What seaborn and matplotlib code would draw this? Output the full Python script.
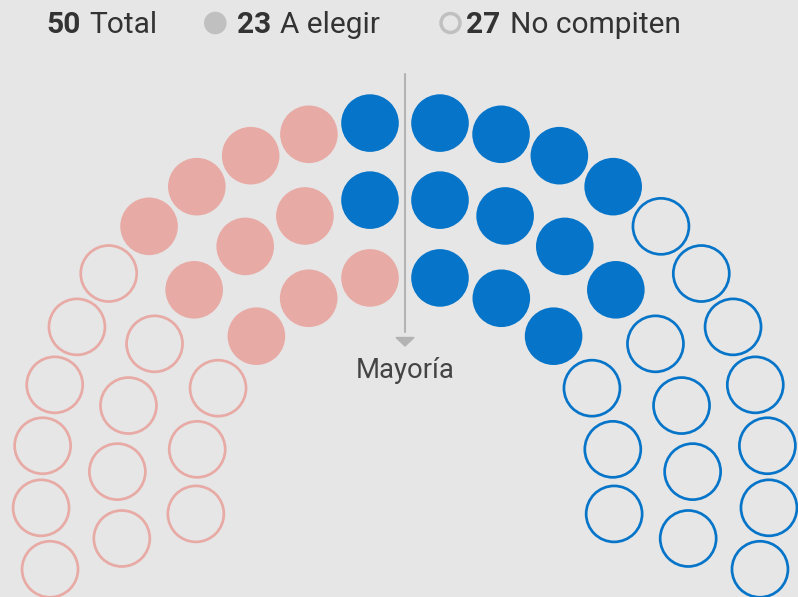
import numpy as np
import pandas as pd
import matplotlib
matplotlib.use("Agg")
import matplotlib.pyplot as plt
from matplotlib.patches import Polygon, Circle
import seaborn as sns

# ---- data -------------------------------------------------------------
bloque = ["rojo", "rojo", "azul", "azul"]
estado = ["No compiten", "A elegir", "A elegir", "No compiten"]
escanos = [13, 10, 13, 14]

colores = {"rojo": "#E8AAA5", "azul": "#0675C9"}
BG = "#E6E6E6"
TXT = "#333333"
GRIS = "#C0C0C0"

# ---- hemicycle layout (pixel space) -----------------------------------
CX, CY = 405, 486
filas_n = [12, 16, 22]
filas_r = [211, 288, 364.6]
filas_caida = [7.6, 10.5, 13.2]
filas_desfase = [4, 4, 0]
HUECO = 35

rows = []
for n, r, a, d in zip(filas_n, filas_r, filas_caida, filas_desfase):
    top = np.degrees(np.arccos(HUECO / r))
    right = np.linspace(-a, top, n // 2)
    angs = np.concatenate([right, 180 - right])
    for ang in angs:
        t = np.radians(ang)
        rows.append((CX + r * np.cos(t), CY - r * np.sin(t), ang + d))
seats = pd.DataFrame(rows, columns=["x", "y", "key"])
seats = seats.sort_values("key", ascending=False).reset_index(drop=True)
seats["bloque"] = np.repeat(bloque, escanos)
seats["estado"] = np.repeat(estado, escanos)

# ---- figure -----------------------------------------------------------
sns.set_theme(style="white")
plt.rcParams["font.family"] = ["Roboto", "DejaVu Sans"]
fig = plt.figure(figsize=(7.98, 5.97), dpi=100, facecolor=BG)
ax = fig.add_axes([0, 0, 1, 1])
ax.set_facecolor(BG)

llenos = seats[seats["estado"] == "A elegir"]
vacios = seats[seats["estado"] == "No compiten"]
sns.scatterplot(data=llenos, x="x", y="y", hue="bloque", palette=colores,
                s=1720, linewidth=0, legend=False, ax=ax, zorder=3)
sns.scatterplot(data=vacios, x="x", y="y", hue="bloque", palette=colores,
                s=1625, linewidth=1.95, legend=False, ax=ax, zorder=3)
coll = ax.collections[-1]
fc = coll.get_facecolors()
coll.set_edgecolors(fc)
coll.set_facecolors("none")

# majority line
ax.plot([CX, CX], [74, 332], color="#B3B3B3", lw=1.5, zorder=2)
ax.add_patch(Polygon([(CX - 9, 337.5), (CX + 9, 337.5), (CX, 346)],
                     closed=True, color="#B3B3B3", zorder=2))
ax.text(CX + 0.5, 378, "Mayoría", ha="center", va="baseline", fontsize=19.8, color="#444444")

# legend
total = sum(escanos)
n_elegir = sum(v for v, e in zip(escanos, estado) if e == "A elegir")
n_no = sum(v for v, e in zip(escanos, estado) if e == "No compiten")
yb = 33
fs = 21.5
ax.text(46, yb, str(total), ha="left", va="baseline", fontsize=fs, fontweight="bold", color=TXT)
ax.text(89, yb, "Total", ha="left", va="baseline", fontsize=fs, color=TXT)
ax.add_patch(Circle((215.3, 23), 11.3, color=GRIS, lw=0))
ax.text(237.5, yb, str(n_elegir), ha="left", va="baseline", fontsize=fs, fontweight="bold", color=TXT)
ax.text(280.5, yb, "A elegir", ha="left", va="baseline", fontsize=fs, color=TXT)
ax.add_patch(Circle((450.5, 23), 9.5, facecolor="none", edgecolor=GRIS, lw=2.5))
ax.text(466, yb, str(n_no), ha="left", va="baseline", fontsize=fs, fontweight="bold", color=TXT)
ax.text(509.5, yb, "No compiten", ha="left", va="baseline", fontsize=fs, color=TXT)

ax.set_xlim(0, 798)
ax.set_ylim(597, 0)
ax.axis("off")
fig.savefig("out.png", dpi=100, facecolor=BG)
